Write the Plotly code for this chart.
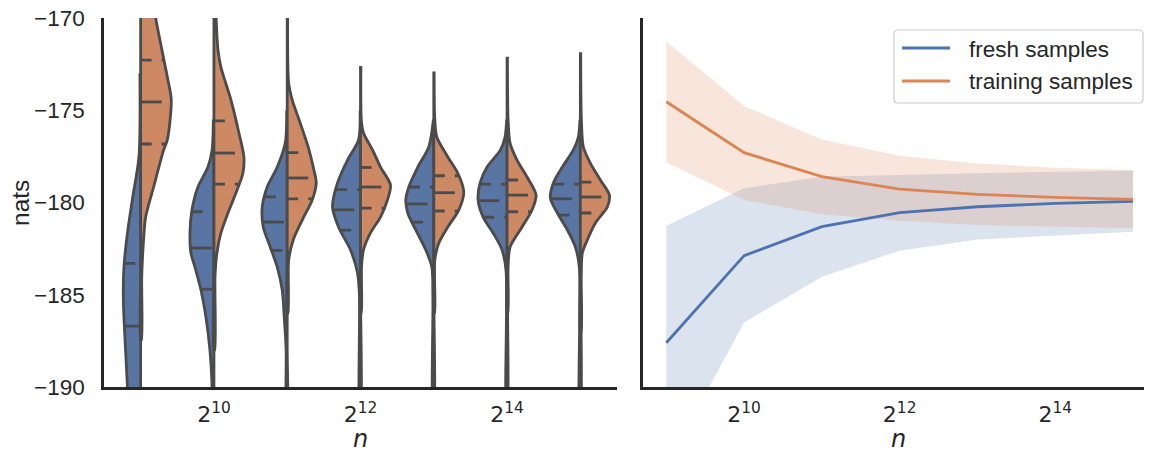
import numpy as np
import plotly.graph_objects as go

# The page body has an 8px margin, so the figure is sized to fill the rest of the window.
OFF = 8
W, H = 1152 - OFF, 450 - OFF

# ---------------- data ----------------
n_values = [512, 1024, 2048, 4096, 8192, 16384, 32768]
n_tick_values = [1024, 4096, 16384]
n_tick_labels = ["2<sup>10</sup>", "2<sup>12</sup>", "2<sup>14</sup>"]
violin_tick_pos = [1, 3, 5]
nats_ticks = [-190, -185, -180, -175, -170]
nats_tick_labels = ["\u2212190", "\u2212185", "\u2212180", "\u2212175", "\u2212170"]

# half-violin outlines: nats value and half-width (category units)
fresh_violin_y = [
    [-173.0, -177.5, -179.86, -181.65, -183.5, -185.3, -187.07, -190.0, -192.0],
    [-175.5, -177.15, -178.08, -179.16, -180.41, -181.65, -182.74, -183.5, -184.74, -186.21, -187.99, -189.78, -192.0],
    [-175.0, -176.78, -178.08, -179.16, -180.24, -181.33, -182.41, -183.5, -184.74, -186.21, -188.0, -192.0],
    [-175.0, -176.61, -177.7, -178.94, -180.24, -181.33, -182.57, -183.82, -185.0, -192.0],
    [-175.5, -176.99, -178.08, -179.16, -179.86, -180.57, -181.49, -182.57, -183.5, -185.0, -192.0],
    [-175.5, -176.5, -177.15, -178.08, -178.94, -179.86, -180.79, -181.65, -182.57, -183.7, -192.0],
    [-175.5, -176.5, -177.15, -178.08, -178.94, -179.76, -180.57, -181.49, -182.41, -183.5, -192.0],
]
fresh_violin_w = [
    [0.01, 0.023, 0.114, 0.18, 0.228, 0.236, 0.218, 0.18, 0.16],
    [0.008, 0.025, 0.082, 0.218, 0.30, 0.327, 0.314, 0.259, 0.177, 0.109, 0.055, 0.027, 0.015],
    [0.006, 0.027, 0.136, 0.273, 0.341, 0.327, 0.232, 0.136, 0.068, 0.041, 0.015, 0.01],
    [0.005, 0.027, 0.177, 0.314, 0.382, 0.30, 0.136, 0.041, 0.015, 0.01],
    [0.005, 0.068, 0.218, 0.341, 0.382, 0.355, 0.246, 0.109, 0.027, 0.012, 0.01],
    [0.005, 0.03, 0.09, 0.273, 0.368, 0.396, 0.327, 0.191, 0.068, 0.014, 0.01],
    [0.005, 0.03, 0.095, 0.246, 0.368, 0.409, 0.314, 0.177, 0.068, 0.014, 0.01],
]
train_violin_y = [
    [-166.0, -168.0, -170.0, -173.2, -174.44, -176.61, -177.15, -179.16, -180.79, -182.03, -184.0, -187.45],
    [-168.0, -171.73, -172.66, -174.44, -176.23, -177.53, -178.4, -179.49, -180.57, -181.65, -182.74, -184.0, -188.0],
    [-168.0, -173.52, -174.44, -175.69, -176.99, -178.08, -178.94, -179.86, -180.95, -182.03, -183.12, -186.0],
    [-172.6, -175.69, -176.23, -177.15, -178.08, -179.05, -179.86, -180.79, -181.65, -182.57, -183.5, -186.0],
    [-172.9, -175.5, -176.45, -177.53, -178.4, -179.43, -180.41, -181.33, -182.2, -183.12, -186.0],
    [-172.1, -175.5, -176.78, -177.7, -178.62, -179.59, -180.41, -181.33, -182.41, -183.5, -186.0],
    [-171.85, -175.5, -176.99, -177.86, -178.78, -179.59, -180.24, -181.11, -182.03, -182.74, -184.0, -187.0],
]
train_violin_w = [
    [0.05, 0.13, 0.205, 0.364, 0.418, 0.364, 0.314, 0.177, 0.068, 0.04, 0.015, 0.01],
    [0.012, 0.055, 0.095, 0.232, 0.341, 0.409, 0.396, 0.30, 0.191, 0.095, 0.041, 0.015, 0.01],
    [0.01, 0.02, 0.068, 0.177, 0.286, 0.355, 0.396, 0.341, 0.205, 0.082, 0.02, 0.01],
    [0.005, 0.014, 0.041, 0.164, 0.273, 0.409, 0.368, 0.273, 0.136, 0.041, 0.014, 0.01],
    [0.005, 0.014, 0.041, 0.191, 0.327, 0.409, 0.341, 0.191, 0.068, 0.014, 0.01],
    [0.005, 0.014, 0.041, 0.136, 0.273, 0.396, 0.341, 0.205, 0.041, 0.014, 0.01],
    [0.005, 0.014, 0.041, 0.136, 0.273, 0.396, 0.368, 0.205, 0.095, 0.027, 0.012, 0.01],
]
# quartiles (q1, median, q3)
fresh_quartiles = [
    [-190.6, -186.7, -183.3],
    [-184.7, -182.47, -180.5],
    [-182.6, -181.06, -179.7],
    [-181.5, -180.4, -179.3],
    [-181.06, -180.08, -179.16],
    [-180.8, -179.9, -179.0],
    [-180.68, -179.8, -179.0],
]
train_quartiles = [
    [-176.83, -174.55, -172.28],
    [-179.0, -177.32, -175.58],
    [-179.8, -178.67, -177.3],
    [-180.3, -179.16, -178.1],
    [-180.46, -179.47, -178.55],
    [-180.5, -179.6, -178.78],
    [-180.57, -179.7, -178.9],
]

# right panel: mean and band
fresh_mean = [-187.6, -182.88, -181.31, -180.55, -180.23, -180.05, -179.94]
fresh_low = [-194.3, -186.5, -184.02, -182.61, -182.0, -181.8, -181.58]
fresh_high = [-181.26, -179.23, -178.6, -178.49, -178.42, -178.33, -178.28]
train_mean = [-174.54, -177.3, -178.6, -179.27, -179.56, -179.72, -179.83]
train_low = [-177.82, -179.86, -180.64, -180.99, -181.22, -181.31, -181.4]
train_high = [-171.28, -174.77, -176.58, -177.46, -177.88, -178.11, -178.24]

series_names = ["fresh samples", "training samples"]

# ---------------- style ----------------
BLUE = "#4C72B0"
ORANGE = "#DD8452"
BLUE_FILL = "#5975A4"
ORANGE_FILL = "#CC8963"
EDGE = "#4B4B4B"
AX = "#262626"
SANS = "Liberation Sans, Arial, sans-serif"
MATH = "DejaVu Sans"
EW = 2.8

fig = go.Figure()


def half_violin(i, ys, ws, side, fill):
    xe = [i + side * w for w in ws]
    x = xe + [i] * len(ys)
    y = list(ys) + list(ys)[::-1]
    fig.add_trace(go.Scatter(
        x=x, y=y, mode="lines", fill="toself", fillcolor=fill,
        line=dict(color=EDGE, width=EW, shape="spline", smoothing=0.8),
        hoverinfo="skip", showlegend=False, xaxis="x", yaxis="y"))


def quart_lines(i, qs, ys, ws, side):
    for k, q in enumerate(qs):
        w = float(np.interp(q, list(ys)[::-1], list(ws)[::-1]))
        xs = [i - w, i] if side < 0 else [i, i + w]
        dash = "21px,21px" if k == 1 else "11px,10px"
        fig.add_trace(go.Scatter(
            x=xs, y=[q, q], mode="lines",
            line=dict(color=EDGE, width=EW, dash=dash),
            hoverinfo="skip", showlegend=False, xaxis="x", yaxis="y"))


for i in range(len(n_values)):
    half_violin(i, fresh_violin_y[i], fresh_violin_w[i], -1, BLUE_FILL)
    quart_lines(i, fresh_quartiles[i], fresh_violin_y[i], fresh_violin_w[i], -1)
    half_violin(i, train_violin_y[i], train_violin_w[i], 1, ORANGE_FILL)
    quart_lines(i, train_quartiles[i], train_violin_y[i], train_violin_w[i], 1)

# right panel bands
for lo, hi, col in [(fresh_low, fresh_high, "rgba(76,114,176,0.2)"),
                    (train_low, train_high, "rgba(221,132,82,0.2)")]:
    fig.add_trace(go.Scatter(x=n_values, y=lo, mode="lines", line=dict(width=0),
                             hoverinfo="skip", showlegend=False, xaxis="x2", yaxis="y2"))
    fig.add_trace(go.Scatter(x=n_values, y=hi, mode="lines", line=dict(width=0),
                             fill="tonexty", fillcolor=col,
                             hoverinfo="skip", showlegend=False, xaxis="x2", yaxis="y2"))

for ys, col, name in [(fresh_mean, BLUE, series_names[0]), (train_mean, ORANGE, series_names[1])]:
    fig.add_trace(go.Scatter(x=n_values, y=ys, mode="lines", name=name,
                             line=dict(color=col, width=2.8),
                             showlegend=False, xaxis="x2", yaxis="y2"))

# ---------------- layout ----------------
def px(x):
    """window pixel -> paper x"""
    return (x - OFF) / W


def py(y):
    """window pixel -> paper y"""
    return 1 - (y - OFF) / H


axis_common = dict(showline=True, linecolor=AX, linewidth=2.5, showgrid=False,
                   zeroline=False, ticks="", automargin=False, ticklabeloverflow="allow")
xtick_font = dict(family=MATH, size=22, color=AX)
ytick_font = dict(family=SANS, size=22.5, color=AX)

fig.update_layout(
    width=W, height=H,
    margin=dict(l=0, r=0, t=0, b=0),
    paper_bgcolor="white", plot_bgcolor="white",
    showlegend=False,
    font=dict(family=SANS, color=AX),
    xaxis=dict(domain=[px(104), px(617)], range=[-0.5, 6.5],
               tickvals=violin_tick_pos, ticktext=n_tick_labels,
               ticklabelstandoff=6, tickfont=xtick_font, **axis_common),
    yaxis=dict(domain=[py(387), py(18)], range=[-190, -170],
               tickvals=nats_ticks, ticktext=nats_tick_labels,
               ticklabelstandoff=12, tickfont=ytick_font, anchor="x", **axis_common),
    xaxis2=dict(domain=[px(643), 1.0], type="log",
                range=[np.log10(2 ** 8.7), np.log10(2 ** 15.245)],
                tickvals=n_tick_values, ticktext=n_tick_labels, anchor="y2",
                ticklabelstandoff=6, tickfont=xtick_font, **axis_common),
    yaxis2=dict(domain=[py(387), py(18)], range=[-190, -170], anchor="x2",
                showticklabels=False, **axis_common),
)

# axis titles
fig.add_annotation(x=px(20), y=py(203), xref="paper", yref="paper", text="nats",
                   textangle=-90, showarrow=False, xanchor="center", yanchor="middle",
                   font=dict(family=SANS, size=24.5, color=AX))
for cx in [360, 898]:
    fig.add_annotation(x=px(cx), y=py(439), xref="paper", yref="paper", text="<i>n</i>",
                       showarrow=False, xanchor="center", yanchor="middle",
                       font=dict(family=MATH, size=24, color=AX))

# legend (drawn manually, matplotlib style)
x0, y0, x1, y1, r = 894, 30, 1143, 103, 4
path = (f"M {px(x0 + r)},{py(y0)} L {px(x1 - r)},{py(y0)} Q {px(x1)},{py(y0)} {px(x1)},{py(y0 + r)} "
        f"L {px(x1)},{py(y1 - r)} Q {px(x1)},{py(y1)} {px(x1 - r)},{py(y1)} "
        f"L {px(x0 + r)},{py(y1)} Q {px(x0)},{py(y1)} {px(x0)},{py(y1 - r)} "
        f"L {px(x0)},{py(y0 + r)} Q {px(x0)},{py(y0)} {px(x0 + r)},{py(y0)} Z")
fig.add_shape(type="path", path=path, xref="paper", yref="paper",
              fillcolor="rgba(255,255,255,0.8)", line=dict(color="#CCCCCC", width=1.2),
              layer="above")
for k, (name, col) in enumerate(zip(series_names, [BLUE, ORANGE])):
    ly = 48 + k * 33
    fig.add_shape(type="line", xref="paper", yref="paper",
                  x0=px(902), x1=px(950), y0=py(ly), y1=py(ly),
                  line=dict(color=col, width=2.8), layer="above")
    fig.add_annotation(x=px(967), y=py(ly + 1), xref="paper", yref="paper", text=name,
                       xanchor="left", yanchor="middle", showarrow=False,
                       font=dict(family=SANS, size=22.5, color=AX))

fig.write_html("out.html")
